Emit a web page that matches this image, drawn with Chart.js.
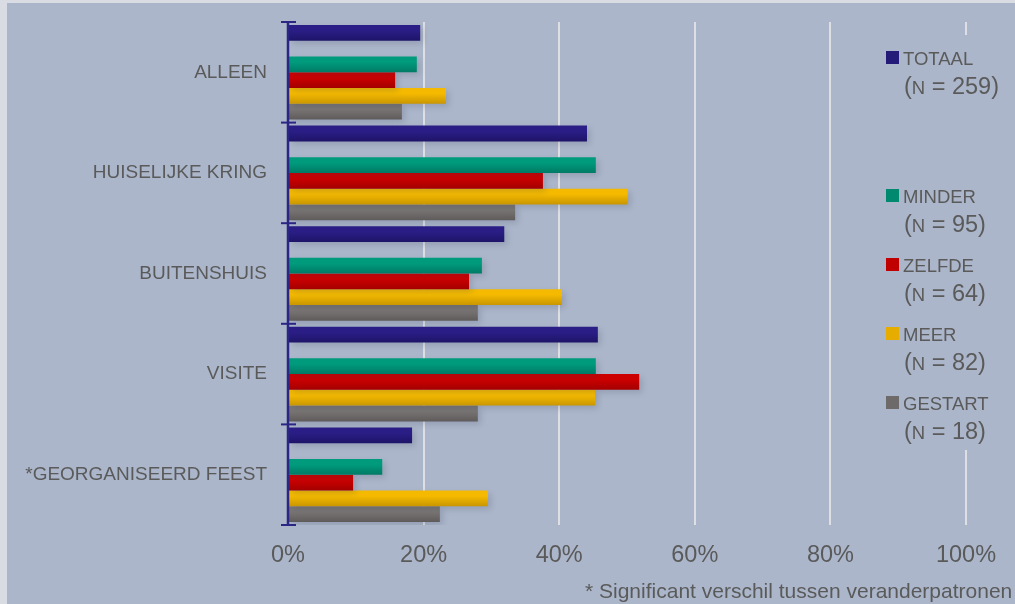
<!DOCTYPE html>
<html>
<head>
<meta charset="utf-8">
<script src="https://cdn.jsdelivr.net/npm/chart.js@4.4.1/dist/chart.umd.min.js"></script>
<style>
  html, body { margin: 0; padding: 0; background: #abb6ca; }
  canvas { display: block; }
</style>
</head>
<body>
<canvas id="grafico" width="1015" height="604"></canvas>
<script>
// categorieën en waarden (percentages)
const categories = ['ALLEEN', 'HUISELIJKE KRING', 'BUITENSHUIS', 'VISITE', '*GEORGANISEERD FEEST'];
const totaal  = [19.5, 44.1, 31.9, 45.7, 18.3];
const minder  = [19.0, 45.4, 28.6, 45.4, 13.9];
const zelfde  = [15.8, 37.6, 26.7, 51.8, 9.6];
const meer    = [23.3, 50.1, 40.4, 45.3, 29.5];
const gestart = [16.8, 33.5, 28.0, 28.0, 22.4];
const seriesN = [259, 95, 64, 82, 18];
const xTicks = [0, 20, 40, 60, 80, 100];
const footnote = '* Significant verschil tussen veranderpatronen';

const BG = '#abb6ca';
const TEXT = '#5a5a5a';
const FONT = '"Liberation Sans", Arial, sans-serif';
const CAT_PCT = 0.94;

// verloop van boven (licht) naar onder (donker) per balk
function verloop(c, top, bottom) {
    const chart = c.chart;
    const y = chart.scales.y;
    if (c.type !== 'data' || !y) return bottom;
    const step = y.height / categories.length;
    const size = step * CAT_PCT / 6;
    const y0 = y.getPixelForValue(c.dataIndex) - step * CAT_PCT / 2 + c.datasetIndex * size;
    if (!isFinite(y0) || !isFinite(size)) return bottom;
    const g = chart.ctx.createLinearGradient(0, y0, 0, y0 + size);
    g.addColorStop(0, top);
    g.addColorStop(0.35, top);
    g.addColorStop(1, bottom);
    return g;
}

function reeks(label, n, data, top, bottom, key) {
    return {
        label: label,
        n: n,
        key: key,
        data: data,
        backgroundColor: c => verloop(c, top, bottom),
        borderWidth: 0,
        categoryPercentage: CAT_PCT,
        barPercentage: 1.0
    };
}

let data = {
    labels: categories,
    datasets: [
        reeks('TOTAAL', seriesN[0], totaal, '#2a1e86', '#1e1468', '#241a78'),
        // lege plek tussen totaal en de veranderpatronen
        { label: '', data: categories.map(() => null), backgroundColor: 'rgba(0,0,0,0)',
          borderWidth: 0, categoryPercentage: CAT_PCT, barPercentage: 1.0 },
        reeks('MINDER', seriesN[1], minder, '#009b7d', '#007a65', '#00896f'),
        reeks('ZELFDE', seriesN[2], zelfde, '#cc0000', '#a30000', '#c00000'),
        reeks('MEER', seriesN[3], meer, '#f5ba00', '#c99600', '#e6ac00'),
        reeks('GESTART', seriesN[4], gestart, '#797574', '#5f5b5b', '#6e6a6a')
    ]
};

// achtergrond met lichte randjes links en boven
const achtergrond = {
    id: 'achtergrond',
    beforeDraw(chart) {
        const ctx = chart.ctx;
        ctx.save();
        ctx.fillStyle = BG;
        ctx.fillRect(0, 0, chart.width, chart.height);
        ctx.fillStyle = '#d9dce2';
        ctx.fillRect(0, 0, 7, chart.height);
        ctx.fillRect(0, 0, chart.width, 3);
        ctx.restore();
    }
};

// schaduw onder de balken
const schaduw = {
    id: 'schaduw',
    beforeDatasetsDraw(chart) {
        const ctx = chart.ctx;
        ctx.save();
        ctx.shadowColor = 'rgba(40, 50, 80, 0.18)';
        ctx.shadowBlur = 6;
        ctx.shadowOffsetX = 3;
        ctx.shadowOffsetY = 3;
    },
    afterDatasetsDraw(chart) {
        chart.ctx.restore();
    }
};

// verticale as met streepjes op de groepsgrenzen
const as = {
    id: 'as',
    afterDatasetsDraw(chart) {
        const ctx = chart.ctx;
        const area = chart.chartArea;
        const y = chart.scales.y;
        const step = y.height / categories.length;
        ctx.save();
        ctx.strokeStyle = '#2b2683';
        ctx.lineWidth = 2.5;
        ctx.beginPath();
        ctx.moveTo(area.left, area.top);
        ctx.lineTo(area.left, area.bottom);
        ctx.stroke();
        ctx.lineWidth = 2;
        for (let i = 0; i <= categories.length; i++) {
            const py = y.top + i * step;
            ctx.beginPath();
            ctx.moveTo(area.left - 7, py);
            ctx.lineTo(area.left + 8, py);
            ctx.stroke();
        }
        ctx.restore();
    }
};

// legenda rechts en voetnoot
const legenda = {
    id: 'legenda',
    afterDraw(chart) {
        const ctx = chart.ctx;
        ctx.save();
        ctx.fillStyle = BG;
        ctx.fillRect(878, 35, 134, 415);
        chart.data.datasets.forEach((ds, i) => {
            if (!ds.key) return;
            const base = 65 + i * 69;
            ctx.fillStyle = ds.key;
            ctx.fillRect(886, base - 14, 13, 13);
            ctx.fillStyle = TEXT;
            ctx.textBaseline = 'alphabetic';
            ctx.textAlign = 'left';
            ctx.font = '18.5px ' + FONT;
            ctx.fillText(ds.label, 903, base);
            // (N = ..) met kleinere N
            const b2 = base + 29;
            let x = 904;
            ctx.font = '23.5px ' + FONT;
            ctx.fillText('(', x, b2);
            x += ctx.measureText('(').width;
            ctx.font = '18.5px ' + FONT;
            ctx.fillText('N', x, b2);
            x += ctx.measureText('N').width;
            ctx.font = '23.5px ' + FONT;
            ctx.fillText(' = ' + ds.n + ')', x, b2);
        });
        ctx.font = '21px ' + FONT;
        ctx.fillStyle = TEXT;
        ctx.textAlign = 'left';
        ctx.textBaseline = 'alphabetic';
        ctx.fillText(footnote, 585, 598);
        ctx.restore();
    }
};

var options = {
    indexAxis: 'y',
    responsive: false,
    animation: false,
    devicePixelRatio: 1,
    layout: { padding: { left: 8, right: 49, top: 22, bottom: 0 } },
    plugins: {
        legend: { display: false },
        tooltip: { enabled: false }
    },
    scales: {
        x: {
            min: 0,
            max: 100,
            grid: {
                color: c => (c.tick && c.tick.value === 0) ? 'rgba(0,0,0,0)' : '#dddfe3',
                lineWidth: 2,
                drawTicks: false
            },
            border: { display: false },
            ticks: {
                color: TEXT,
                font: { family: FONT, size: 23.5 },
                padding: 16,
                maxRotation: 0,
                callback: v => v + '%'
            },
            afterBuildTicks: s => { s.ticks = xTicks.map(v => ({ value: v })); },
            afterFit: s => { s.height = 79; }
        },
        y: {
            grid: { display: false },
            border: { display: false },
            ticks: {
                color: TEXT,
                font: { family: FONT, size: 19 },
                padding: 13
            },
            afterFit: s => { s.width = 280; s.paddingTop = 0; s.paddingBottom = 0; }
        }
    }
};

let ctx = document.querySelector('#grafico').getContext('2d');
let barChart = new Chart(ctx, {
    type: 'bar',
    data: data,
    options: options,
    plugins: [achtergrond, schaduw, as, legenda]
});
</script>
</body>
</html>
